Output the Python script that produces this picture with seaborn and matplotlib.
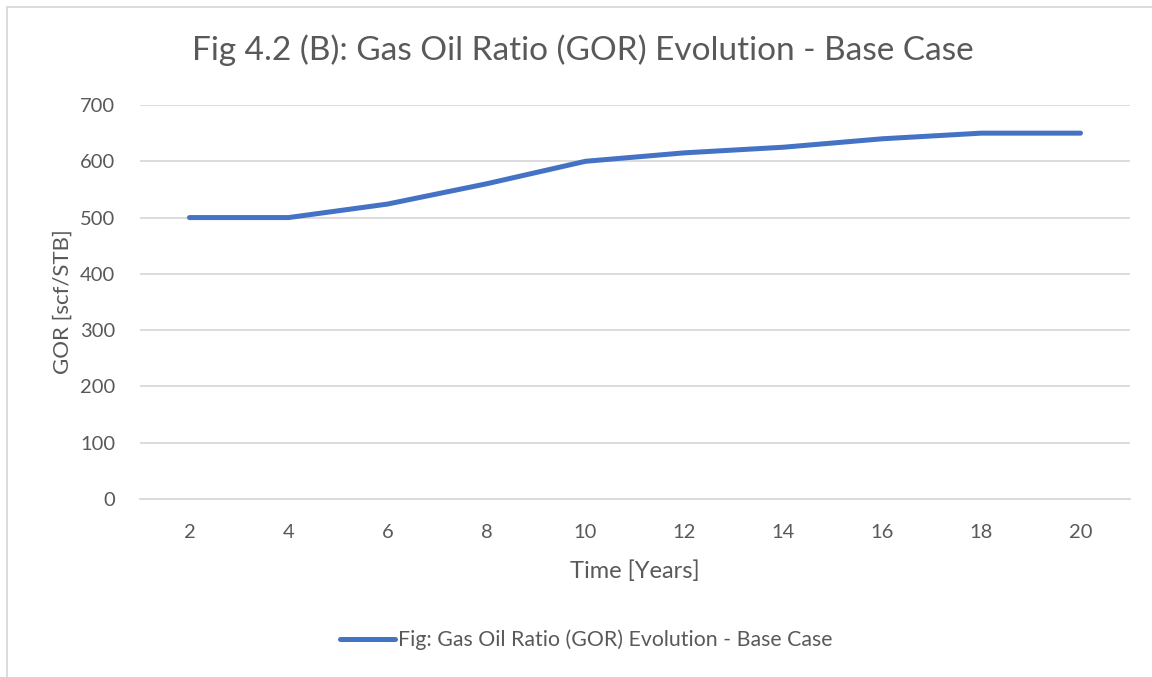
import matplotlib
matplotlib.use("Agg")
import matplotlib.pyplot as plt
import seaborn as sns
import pandas as pd
from matplotlib.lines import Line2D

years = ["2", "4", "6", "8", "10", "12", "14", "16", "18", "20"]
gor = [500, 500, 524, 560, 600, 615, 625, 640, 650, 650]
series_name = "Fig: Gas Oil Ratio (GOR) Evolution - Base Case"
title = "Fig 4.2 (B): Gas Oil Ratio (GOR) Evolution - Base Case"
yticks = [0, 100, 200, 300, 400, 500, 600, 700]

sns.set_theme(style="white")
plt.rcParams['font.family'] = ['Lato', 'DejaVu Sans']

txt = "#595959"
grid = "#D9D9D9"
blue = "#4472C4"

df = pd.DataFrame({"Time": years, "GOR": gor})

fig = plt.figure(figsize=(11.52, 6.77), dpi=100)
W, H = 1152, 677
ax = fig.add_axes([140 / W, 1 - 499 / H, (1130 - 140) / W, (499 - 105) / H])

sns.lineplot(data=df, x="Time", y="GOR", ax=ax, color=blue, linewidth=3.6,
             sort=False, label=series_name, legend=False)
for l in ax.lines:
    l.set_solid_capstyle("round")
    l.set_solid_joinstyle("round")

ax.set_xlim(-0.5, len(years) - 0.5)
ax.set_ylim(0, 700)
ax.set_yticks(yticks)
ax.set_yticklabels([str(v) for v in yticks])
ax.yaxis.grid(True, color=grid, linewidth=1.3)
ax.xaxis.grid(False)
ax.set_axisbelow(True)
for s in ["top", "right", "left"]:
    ax.spines[s].set_visible(False)
ax.spines["bottom"].set_color(grid)
ax.spines["bottom"].set_linewidth(1.3)
ax.tick_params(axis="both", length=0, labelsize=14.5, labelcolor=txt)
ax.tick_params(axis="x", pad=18)
ax.tick_params(axis="y", pad=18)

ax.set_xlabel("Time [Years]", fontsize=17, color=txt, labelpad=14)
ax.set_ylabel("GOR [scf/STB]", fontsize=16, color=txt, labelpad=5)

fig.text(583 / W, 1 - 50 / H, title, ha="center", va="center", fontsize=24, color=txt)

handle = Line2D([0], [0], color=blue, linewidth=3.6, solid_capstyle="round")
fig.legend([handle], [series_name], loc="center", bbox_to_anchor=(586 / W, 1 - 640 / H),
           frameon=False, fontsize=15.3, labelcolor=txt, handlelength=2.6, handletextpad=0.15)

# chart-area border (left and top visible)
fig.add_artist(Line2D([7 / W, 7 / W], [0, 1 - 7 / H], transform=fig.transFigure, color=grid, linewidth=1.3))
fig.add_artist(Line2D([7 / W, 1], [1 - 7 / H, 1 - 7 / H], transform=fig.transFigure, color=grid, linewidth=1.3))

fig.savefig("out.png", dpi=100, facecolor="white")
